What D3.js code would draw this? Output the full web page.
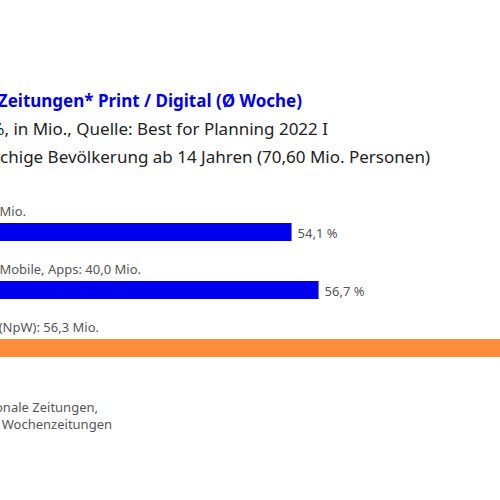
<!DOCTYPE html>
<html><head><meta charset="utf-8">
<script src="https://cdn.jsdelivr.net/npm/d3@7"></script>
<style>body{margin:0;background:#fff}svg{display:block;font-family:"Noto Sans",sans-serif}</style>
</head><body>
<script>
const categories = ["Print: 38,2 Mio.", "Digital – Desktop, Mobile, Apps: 40,0 Mio.", "Zeitungen gesamt (NpW): 56,3 Mio."];
const values = [54.1, 56.7, 79.7];
const valueLabels = ["54,1 %", "56,7 %", "79,7 %"];
const colors = ["#0000ee", "#0000ee", "#ff8c3d"];
const titleLines = ["Reichweite Zeitungen* Print / Digital (Ø Woche)",
  "Reichweiten in %, in Mio., Quelle: Best for Planning 2022 I",
  "Basis: Deutschsprachige Bevölkerung ab 14 Jahren (70,60 Mio. Personen)"];
const footLines = ["* Tageszeitungen, regionale Zeitungen,", "überregionale Zeitungen, Wochenzeitungen"];

const svg = d3.select("body").append("svg").attr("width",500).attr("height",500);
const x = d3.scaleLinear().domain([0,100]).range([-270, 768]);
const y = d3.scaleBand().domain(categories).range([203, 377]).paddingInner(0);

// titles (right edges as visible in the picture)
const tEnds = [302, 328, 430], tY = [107, 135, 163];
titleLines.forEach((t,i)=>svg.append("text").attr("x",tEnds[i]).attr("y",tY[i])
  .attr("text-anchor","end").attr("font-size",17).attr("font-weight",i===0?700:400)
  .attr("fill",i===0?"#0000ee":"#222").text(t));

const labEnds = [26, 141, 99];
const g = svg.selectAll("g.row").data(categories).join("g").attr("class","row")
  .attr("transform",d=>`translate(0,${y(d)})`);
g.append("text").attr("x",(d,i)=>labEnds[i]).attr("y",13).attr("text-anchor","end")
  .attr("font-size",13).attr("fill","#555").text(d=>d);
g.append("rect").attr("x",x(0)).attr("y",20).attr("height",18)
  .attr("width",(d,i)=>x(values[i])-x(0)).attr("fill",(d,i)=>colors[i]);
g.append("text").attr("x",(d,i)=>x(values[i])+6).attr("y",35)
  .attr("font-size",13).attr("fill","#555").text((d,i)=>valueLabels[i]);

const fEnds=[98,112], fY=[412,429];
footLines.forEach((t,i)=>svg.append("text").attr("x",fEnds[i]).attr("y",fY[i])
  .attr("text-anchor","end").attr("font-size",13).attr("fill","#555").text(t));
</script>
</body></html>
